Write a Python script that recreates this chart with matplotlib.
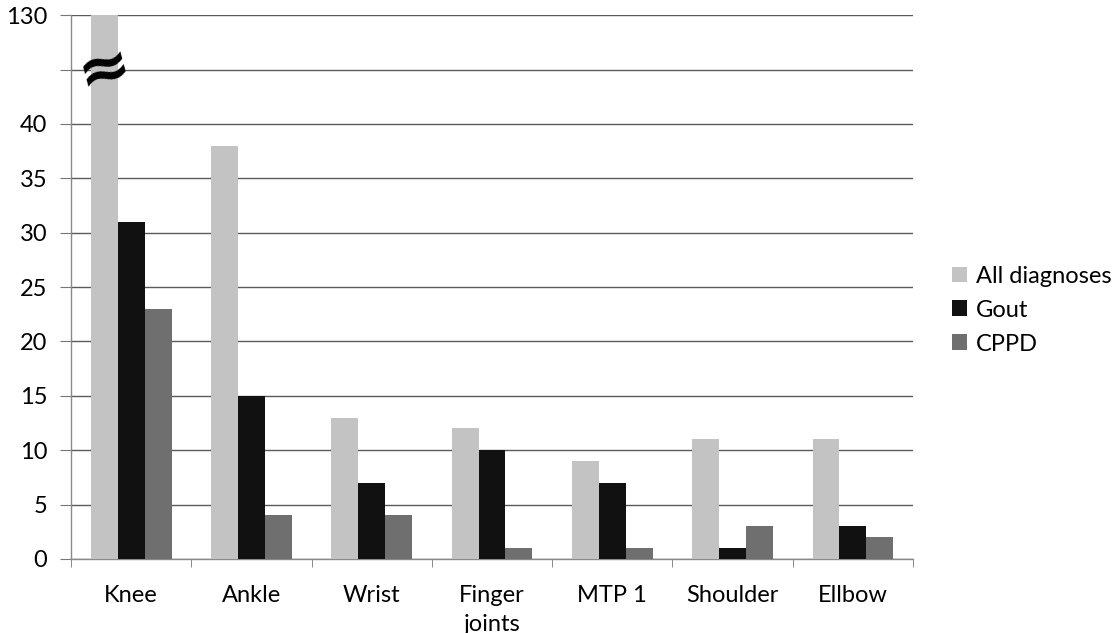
import numpy as np
import matplotlib
matplotlib.use("Agg")
import matplotlib.pyplot as plt

JOINTS = ["Knee", "Ankle", "Wrist", "Finger\njoints", "MTP 1", "Shoulder", "Ellbow"]
ALL_DIAGNOSES = [130, 38, 13, 12, 9, 11, 11]
GOUT = [31, 15, 7, 10, 7, 1, 3]
CPPD = [23, 4, 4, 1, 1, 3, 2]
SERIES = ["All diagnoses", "Gout", "CPPD"]
COLORS = ["#c3c3c3", "#111111", "#6f6f6f"]

Y_TICKS = [0, 5, 10, 15, 20, 25, 30, 35, 40, 45, 50]
Y_LABELS = ["0", "5", "10", "15", "20", "25", "30", "35", "40", "", "130"]
BREAK_AT = 50  # axis is broken above 40; top gridline stands for 130

plt.rcParams["font.family"] = ["Lato", "DejaVu Sans"]

fig = plt.figure(figsize=(11.19, 6.33), dpi=100)
ax = fig.add_axes([0.0634, 0.117, 0.7526, 0.859])

x = np.arange(len(JOINTS))
w = 0.224
for i, (vals, name, col) in enumerate(zip([ALL_DIAGNOSES, GOUT, CPPD], SERIES, COLORS)):
    shown = np.minimum(vals, BREAK_AT)
    ax.bar(x + (i - 1) * w, shown, width=w, color=col, label=name, zorder=3)

# break marker on the clipped Knee bar
ax.text(x[0] - w, 45, "≈", fontsize=46, fontweight="bold", color="black",
        ha="center", va="center", rotation=15, family="DejaVu Sans", zorder=5)

ax.set_xlim(-0.5, len(JOINTS) - 0.5)
ax.set_ylim(0, 50)
ax.set_yticks(Y_TICKS)
ax.set_yticklabels(Y_LABELS)
ax.yaxis.grid(True, color="#5a5a5a", linewidth=1.0, zorder=0)
ax.set_axisbelow(True)

ax.set_xticks(x)
ax.set_xticklabels(JOINTS, linespacing=1.45)
ax.set_xticks(np.arange(len(JOINTS) + 1) - 0.5, minor=True)
ax.tick_params(axis="x", which="major", length=0, pad=19, labelsize=17)
ax.tick_params(axis="x", which="minor", length=6, color="#777777")
ax.tick_params(axis="y", length=8, color="#777777", labelsize=17, pad=9)

for s in ["top", "right"]:
    ax.spines[s].set_visible(False)
for s in ["left", "bottom"]:
    ax.spines[s].set_color("#8a8a8a")
    ax.spines[s].set_linewidth(1.0)

fig.legend(loc="center left", bbox_to_anchor=(0.836, 0.51), frameon=False,
           fontsize=17, handlelength=0.65, handleheight=0.65, handletextpad=0.35,
           labelspacing=0.55, borderpad=0.2)

fig.savefig("out.png", dpi=100)
